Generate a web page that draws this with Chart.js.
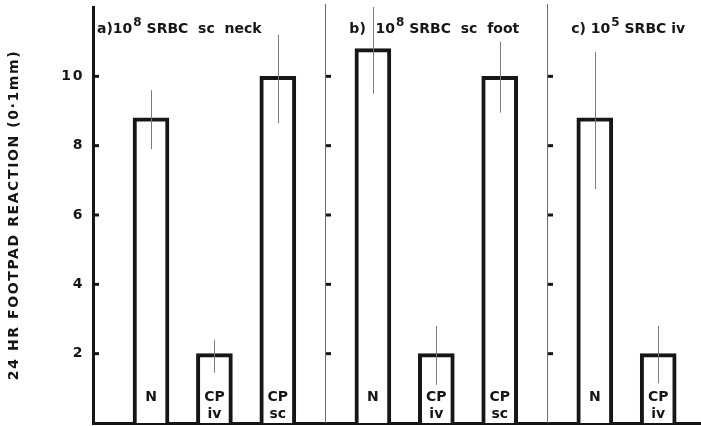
<!DOCTYPE html>
<html>
<head>
<meta charset="utf-8">
<script src="https://cdn.jsdelivr.net/npm/chart.js@4.4.1/dist/chart.umd.min.js"></script>
<style>
  html, body { margin: 0; padding: 0; background: #fff; }
  #wrap { width: 701px; height: 426px; }
</style>
</head>
<body>
<div id="wrap"><canvas id="chart"></canvas></div>
<script>
// '' entries are spacers between the three panels
const categories = ['N', '', 'CP iv', '', 'CP sc', '', '', 'N', '', 'CP iv', '', 'CP sc', '', '', 'N', '', 'CP iv'];
const means   = [8.8, null, 2.0, null, 10.0, null, null, 10.8, null, 2.0, null, 10.0, null, null, 8.8, null, 2.0];
const errHigh = [9.6, null, 2.4, null, 11.2, null, null, 12.0, null, 2.8, null, 11.0, null, null, 10.7, null, 2.8];
const errLow  = [7.9, null, 1.45, null, 8.65, null, null, 9.5, null, 1.1, null, 8.95, null, null, 6.75, null, 1.15];
const panelBreaks = [5.5, 12.5];
const panelTitles = [
    ['a)10', '8', ' SRBC  sc  neck'],
    ['b)  10', '8', ' SRBC  sc  foot'],
    ['c) 10', '5', ' SRBC iv']
];
const yTicks = [2, 4, 6, 8, 10];
const yTitle = '24 HR FOOTPAD REACTION (0\u00b71mm)';

const FONT = '"DejaVu Sans", sans-serif';
const INK = '#161616';

const barData = [];
means.forEach((m, i) => {
    if (m !== null) barData.push({ x: i, y: m });
});

const panelPlugin = {
    id: 'panels',
    beforeDraw(chart) {
        // wide spacing for the axis title
        chart.ctx.letterSpacing = '1.6px';
    },
    beforeDatasetsDraw(chart) {
        const { ctx, chartArea, scales: { x } } = chart;
        ctx.letterSpacing = '0px';
        ctx.save();
        ctx.strokeStyle = '#6a6a6a';
        ctx.lineWidth = 1;
        panelBreaks.forEach(b => {
            const px = Math.round(x.getPixelForValue(b)) + 0.5;
            ctx.beginPath();
            ctx.moveTo(px, chartArea.top - 3);
            ctx.lineTo(px, chartArea.bottom);
            ctx.stroke();
        });
        ctx.restore();
    },
    afterDatasetsDraw(chart) {
        const { ctx, chartArea, scales: { x, y } } = chart;
        ctx.save();

        // error bars
        ctx.strokeStyle = '#7a7a7a';
        ctx.lineWidth = 1;
        means.forEach((m, i) => {
            if (m === null) return;
            const px = Math.round(x.getPixelForValue(i)) + 0.5;
            ctx.beginPath();
            ctx.moveTo(px, y.getPixelForValue(errHigh[i]));
            ctx.lineTo(px, y.getPixelForValue(errLow[i]));
            ctx.stroke();
        });

        // tick stubs on the right of the axis and of each divider
        ctx.strokeStyle = INK;
        ctx.lineWidth = 3;
        const stubX = [chartArea.left + 1].concat(panelBreaks.map(b => Math.round(x.getPixelForValue(b)) + 1));
        yTicks.forEach(v => {
            const py = y.getPixelForValue(v);
            stubX.forEach(sx => {
                ctx.beginPath();
                ctx.moveTo(sx, py);
                ctx.lineTo(sx + 5, py);
                ctx.stroke();
            });
        });

        // labels inside the bars
        ctx.fillStyle = INK;
        ctx.textAlign = 'center';
        ctx.textBaseline = 'middle';
        ctx.font = 'bold 14px ' + FONT;
        const base = y.getPixelForValue(0);
        means.forEach((m, i) => {
            if (m === null) return;
            const px = x.getPixelForValue(i);
            categories[i].split(' ').forEach((w, k) => {
                ctx.fillText(w, px, base - 26 + k * 17);
            });
        });

        // panel titles
        ctx.textAlign = 'left';
        ctx.textBaseline = 'alphabetic';
        const starts = [chartArea.left + 4].concat(panelBreaks.map(b => x.getPixelForValue(b) + 24));
        const ty = chartArea.top + 26;
        panelTitles.forEach((parts, p) => {
            let cx = starts[p];
            ctx.font = 'bold 14px ' + FONT;
            ctx.fillText(parts[0], cx, ty);
            cx += ctx.measureText(parts[0]).width + 1;
            ctx.font = 'bold 12px ' + FONT;
            ctx.fillText(parts[1], cx, ty - 7);
            cx += ctx.measureText(parts[1]).width;
            ctx.font = 'bold 14px ' + FONT;
            ctx.fillText(parts[2], cx, ty);
        });

        ctx.restore();
    }
};

const chart = new Chart(document.getElementById('chart'), {
    type: 'bar',
    data: {
        datasets: [{
            data: barData,
            backgroundColor: '#ffffff',
            borderColor: INK,
            borderWidth: 4,
            borderSkipped: 'bottom',
            barThickness: 36
        }]
    },
    options: {
        responsive: true,
        maintainAspectRatio: false,
        animation: false,
        layout: { padding: { top: 7, left: 0, right: 0, bottom: 0 } },
        plugins: {
            legend: { display: false },
            tooltip: { enabled: false }
        },
        scales: {
            x: {
                type: 'linear',
                offset: false,
                min: -1.83,
                max: 17.35,
                afterFit(s) {
                    s.height = 3;
                    s.paddingLeft = 0;
                    s.paddingRight = 0;
                },
                grid: { display: false, drawTicks: false },
                ticks: { display: false },
                border: { display: true, color: INK, width: 3 }
            },
            y: {
                min: 0,
                max: 12,
                afterFit(s) {
                    s.width = 93;
                    s.paddingTop = 0;
                    s.paddingBottom = 0;
                },
                grid: { display: false, drawTicks: false },
                border: { display: true, color: INK, width: 3 },
                ticks: {
                    stepSize: 2,
                    padding: 9,
                    color: INK,
                    font: { family: FONT, size: 14, weight: 'bold' },
                    callback: v => yTicks.includes(v) ? v : ''
                },
                title: {
                    display: true,
                    text: yTitle,
                    color: INK,
                    font: { family: FONT, size: 14, weight: 'bold' },
                    padding: { top: 6, bottom: 0 }
                }
            }
        }
    },
    plugins: [panelPlugin]
});
</script>
</body>
</html>
